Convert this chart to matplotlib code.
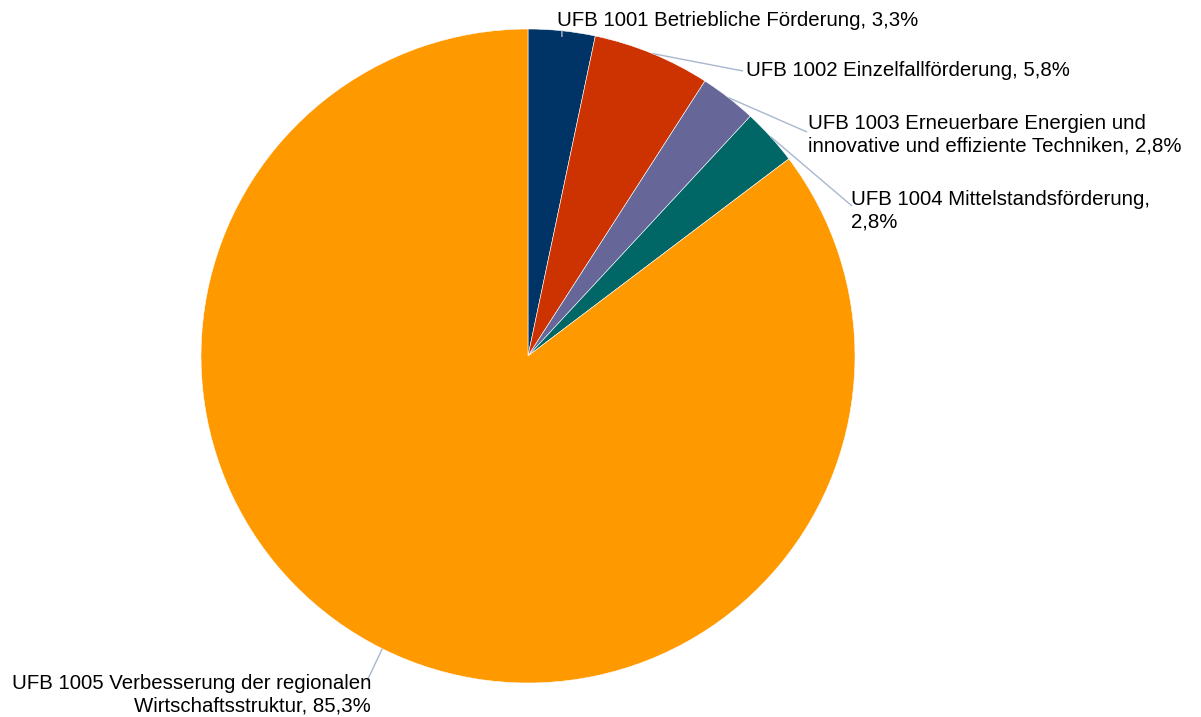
import numpy as np
import matplotlib
matplotlib.use("Agg")
import matplotlib.pyplot as plt

labels = [
    "UFB 1001 Betriebliche Förderung, 3,3%",
    "UFB 1002 Einzelfallförderung, 5,8%",
    "UFB 1003 Erneuerbare Energien und\ninnovative und effiziente Techniken, 2,8%",
    "UFB 1004 Mittelstandsförderung,\n2,8%",
    "UFB 1005 Verbesserung der regionalen\nWirtschaftsstruktur, 85,3%",
]
values = [3.3, 5.8, 2.8, 2.8, 85.3]
colors = ["#003366", "#CC3300", "#666699", "#006666", "#FF9900"]

W, H = 1201, 717
fig = plt.figure(figsize=(W / 100, H / 100), dpi=100)
ax = fig.add_axes([0, 0, 1, 1])

cx, cy, R = 528, H - 356, 327
wedges, _ = ax.pie(values, colors=colors, startangle=90, counterclock=False,
                   radius=R, center=(cx, cy), frame=True,
                   wedgeprops=dict(edgecolor="white", linewidth=0.4))
ax.set_xlim(0, W)
ax.set_ylim(0, H)
ax.set_aspect("equal")
ax.axis("off")

# label anchor positions (pixels from top-left) and alignment
label_pos = [
    (557, 20, "left", (562, 37)),
    (746, 71, "left", (743, 71)),
    (808, 135, "left", (807, 132)),
    (851, 211, "left", (852, 206)),
    (371, 695, "right", (367, 681)),
]
for w, lab, (lx, ly, ha, end) in zip(wedges, labels, label_pos):
    mid = np.deg2rad((w.theta1 + w.theta2) / 2)
    sx = cx + R * np.cos(mid)
    sy = cy + R * np.sin(mid)
    ax.plot([sx, end[0]], [sy, H - end[1]], color="#A9B7CF", lw=1.0,
            solid_capstyle="butt")
    ax.text(lx, H - ly, lab, ha=ha, va="center", fontsize=14.7,
            family="Liberation Sans", color="#000000", linespacing=1.25,
            multialignment=ha)

fig.savefig("out.png", dpi=100)
